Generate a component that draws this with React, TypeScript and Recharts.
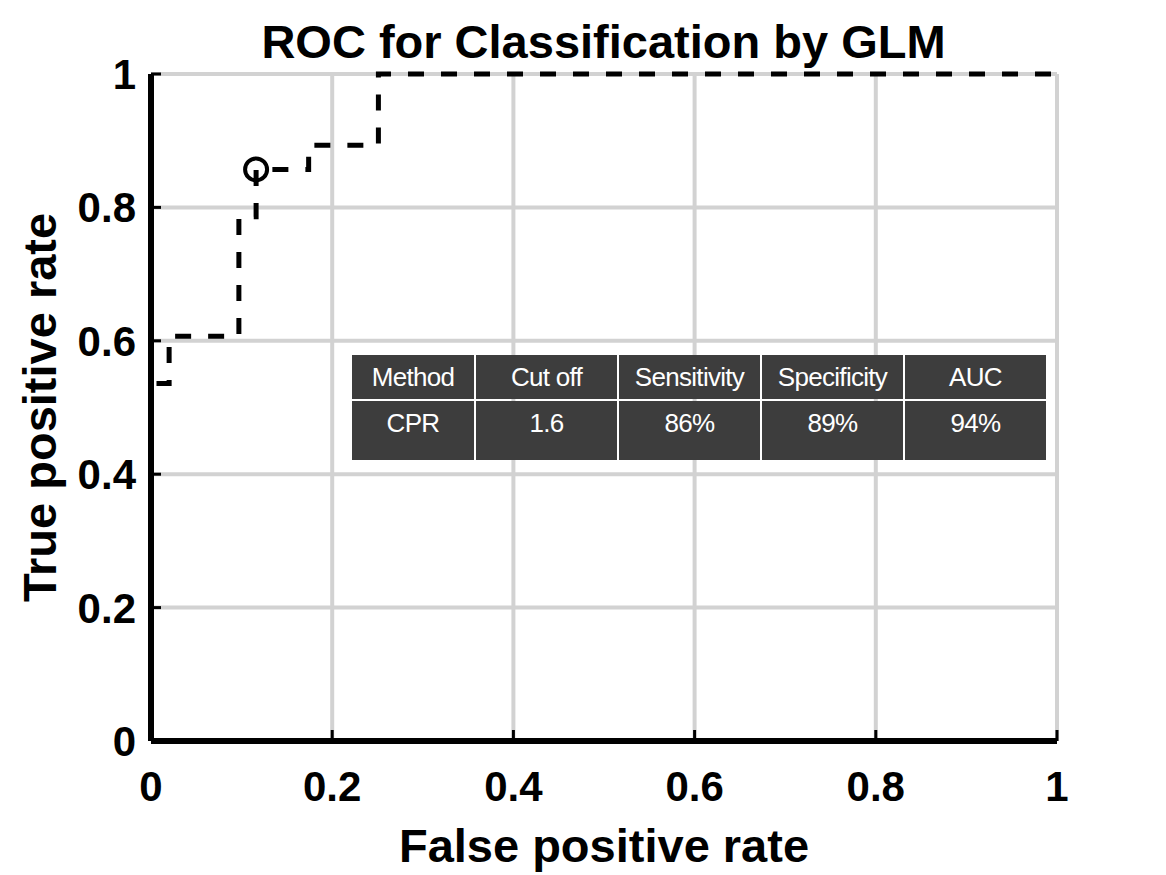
import React from 'react';
import { ComposedChart, Line, XAxis, YAxis, CartesianGrid, ReferenceDot, Label } from 'recharts';

// ROC curve corner points (step after)
const fpr = [0, 0, 0.02, 0.097, 0.116, 0.174, 0.251, 1];
const tpr = [0, 0.536, 0.607, 0.786, 0.857, 0.893, 1, 1];

const axisTicks = [0, 0.2, 0.4, 0.6, 0.8, 1];

// chosen cut-off point on the curve
const cutoffFpr = 0.116;
const cutoffTpr = 0.857;

const tableHeader = ['Method', 'Cut off', 'Sensitivity', 'Specificity', 'AUC'];
const tableRow = ['CPR', '1.6', '86%', '89%', '94%'];

const data = fpr.map((x, i) => ({ fpr: x, tpr: tpr[i] }));

const FONT = '"Liberation Sans", Arial, Helvetica, sans-serif';
const fmt = (v: number) => (v === 0 || v === 1 ? String(v) : v.toFixed(1));

const XTick = (props: any) => {
  const { x, y, payload } = props;
  return (
    <g>
      <line x1={x} x2={x} y1={y} y2={y - 11} stroke="#000" strokeWidth={3} />
      <text x={x} y={y + 60} textAnchor="middle" fontFamily={FONT} fontWeight="bold" fontSize={42} fill="#000">
        {fmt(payload.value)}
      </text>
    </g>
  );
};

const YTick = (props: any) => {
  const { x, y, payload } = props;
  return (
    <g>
      <line x1={x} x2={x + 10} y1={y} y2={y} stroke="#000" strokeWidth={3} />
      <text x={x - 15} y={y + 15} textAnchor="end" fontFamily={FONT} fontWeight="bold" fontSize={42} fill="#000">
        {fmt(payload.value)}
      </text>
    </g>
  );
};

const XLabel = (props: any) => {
  const { viewBox } = props;
  return (
    <text x={viewBox.x + viewBox.width / 2} y={viewBox.y + 121} textAnchor="middle" fontFamily={FONT} fontWeight="bold" fontSize={47} fill="#000">
      False positive rate
    </text>
  );
};

const YLabel = (props: any) => {
  const { viewBox } = props;
  const cy = viewBox.y + viewBox.height / 2;
  return (
    <text x={0} y={0} transform={`translate(56, ${cy}) rotate(-90)`} textAnchor="middle" fontFamily={FONT} fontWeight="bold" fontSize={47} fill="#000">
      True positive rate
    </text>
  );
};

const colWidths = [122, 141, 141, 141, 141];

export default function App() {
  return (
    <div style={{ position: 'absolute', left: 0, top: 0, width: 1166, height: 875, background: '#fff', fontFamily: FONT }}>
      <div style={{ position: 'absolute', left: 0, top: 18, width: 1207, textAlign: 'center', fontSize: 47, fontWeight: 'bold', lineHeight: 1, color: '#000' }}>
        ROC for Classification by GLM
      </div>
      <ComposedChart width={1166} height={875} data={data} margin={{ top: 74, right: 109, bottom: 0, left: 0 }}>
        <CartesianGrid stroke="#d2d2d2" strokeWidth={4} />
        <XAxis
          dataKey="fpr"
          type="number"
          domain={[0, 1]}
          ticks={axisTicks}
          height={134}
          tickSize={0}
          tickMargin={0}
          tick={<XTick />}
          axisLine={{ stroke: '#000', strokeWidth: 6 }}
          tickLine={false}
        >
          <Label content={<XLabel />} />
        </XAxis>
        <YAxis
          type="number"
          domain={[0, 1]}
          ticks={axisTicks}
          width={151}
          tickSize={0}
          tickMargin={0}
          tick={<YTick />}
          axisLine={{ stroke: '#000', strokeWidth: 6 }}
          tickLine={false}
        >
          <Label content={<YLabel />} />
        </YAxis>
        <Line
          type="stepAfter"
          dataKey="tpr"
          stroke="#000"
          strokeWidth={5}
          strokeDasharray="16 17"
          dot={false}
          activeDot={false}
          isAnimationActive={false}
        />
        <ReferenceDot x={cutoffFpr} y={cutoffTpr} r={11} fill="none" stroke="#000" strokeWidth={4} />
      </ComposedChart>
      <div style={{ position: 'absolute', left: 352, top: 355, display: 'grid', gridTemplateColumns: colWidths.map((w) => `${w}px`).join(' '), gridTemplateRows: '44px 59px', gap: 2, color: '#fff', fontSize: 26, letterSpacing: -0.7 }}>
        {tableHeader.map((h) => (
          <div key={h} style={{ background: '#3d3d3d', textAlign: 'center', lineHeight: '44px' }}>{h}</div>
        ))}
        {tableRow.map((c, i) => (
          <div key={i} style={{ background: '#3d3d3d', textAlign: 'center', lineHeight: '44px' }}>{c}</div>
        ))}
      </div>
    </div>
  );
}
